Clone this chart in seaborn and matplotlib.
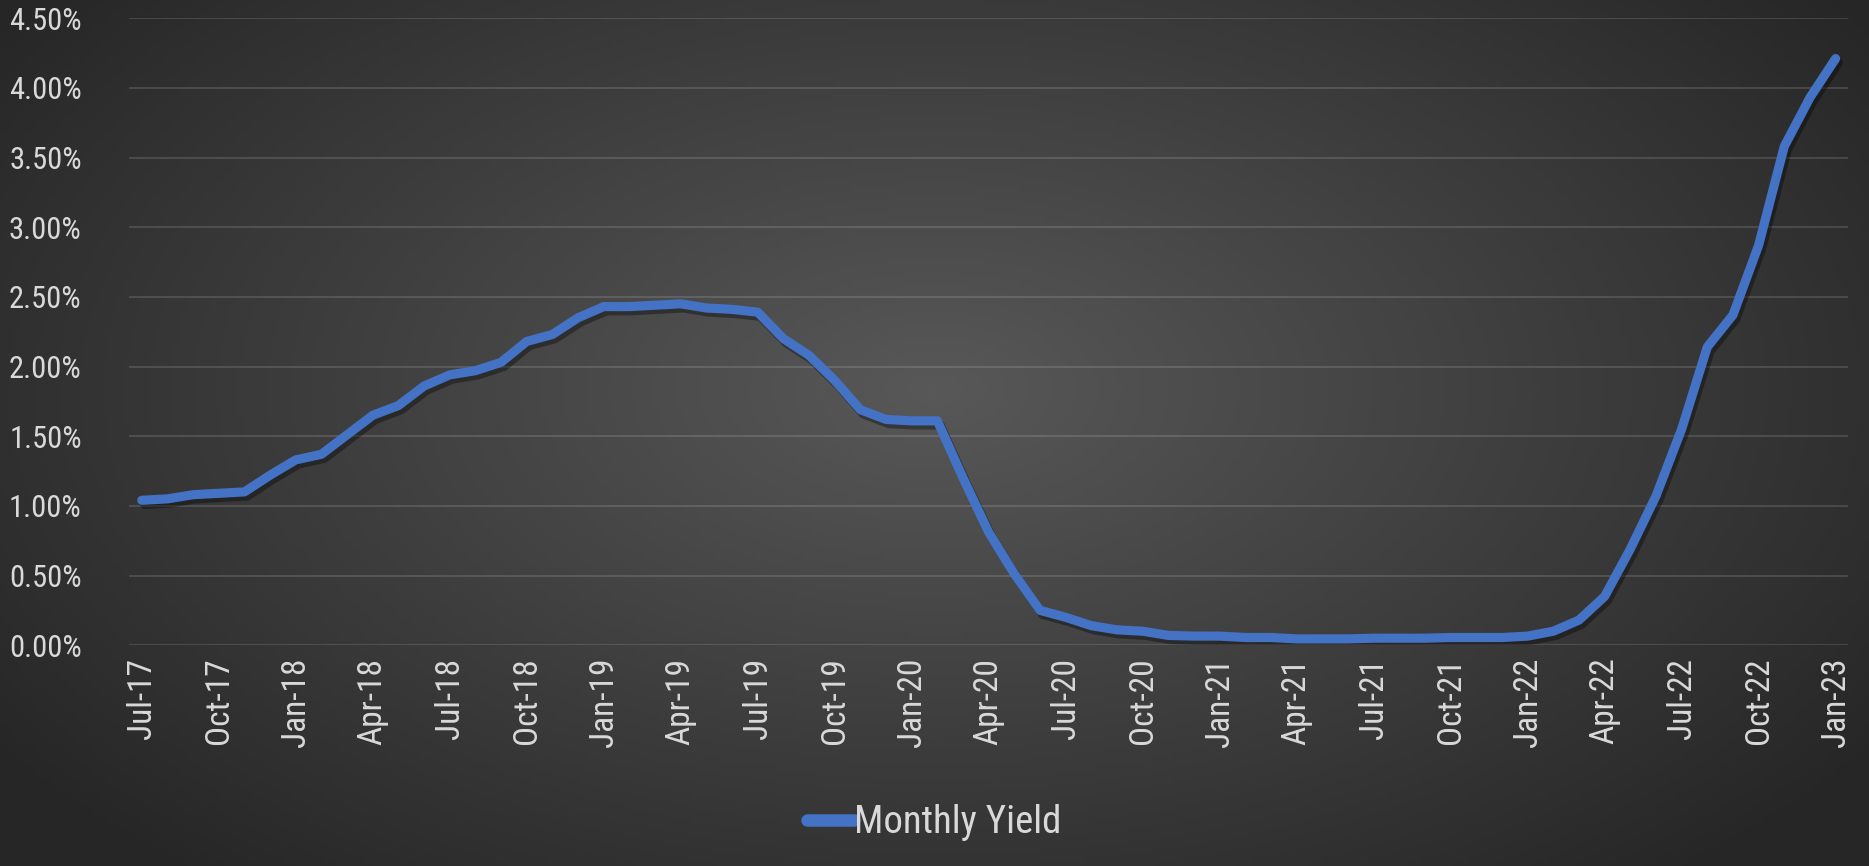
import numpy as np
import pandas as pd
import matplotlib
matplotlib.use('Agg')
import matplotlib.pyplot as plt
import matplotlib.patheffects as pe
from matplotlib.colors import LinearSegmentedColormap
from matplotlib.ticker import FuncFormatter
import seaborn as sns

# monthly yield (%), Jul-17 .. Jan-23
months = pd.date_range('2017-07-01', '2023-01-01', freq='MS')
yield_pct = [1.04, 1.05, 1.08, 1.09, 1.10, 1.22, 1.33, 1.37, 1.51, 1.65, 1.72, 1.86,
             1.94, 1.97, 2.03, 2.18, 2.23, 2.35, 2.43, 2.43, 2.44, 2.45, 2.42, 2.41,
             2.39, 2.20, 2.08, 1.90, 1.69, 1.62, 1.61, 1.61, 1.20, 0.81, 0.51, 0.25,
             0.20, 0.14, 0.11, 0.10, 0.07, 0.065, 0.065, 0.055, 0.055, 0.045, 0.045, 0.045,
             0.05, 0.05, 0.05, 0.055, 0.055, 0.055, 0.065, 0.10, 0.18, 0.35, 0.69, 1.07,
             1.55, 2.14, 2.37, 2.87, 3.58, 3.93, 4.21]
month_labels = [d.strftime('%b-%y') for d in months]

df = pd.DataFrame({'idx': np.arange(len(months)), 'Monthly Yield': yield_pct})

sns.set_style('dark')
plt.rcParams['font.family'] = ['Liberation Sans Narrow', 'DejaVu Sans Condensed', 'Roboto Condensed', 'Liberation Sans', 'DejaVu Sans']
plt.rcParams['font.stretch'] = 'condensed'
txt = '#d9d9d9'

fig = plt.figure(figsize=(18.69, 8.66), dpi=100)

# radial gradient background
bg = fig.add_axes([0, 0, 1, 1], zorder=-1)
gx, gy = np.meshgrid(np.linspace(0, 1, 400), np.linspace(0, 1, 200))
r = np.sqrt(((gx - 0.5) / 0.62) ** 2 + ((gy - 0.45) / 0.75) ** 2)
cmap = LinearSegmentedColormap.from_list('bg', ['#585858', '#262626'])
bg.imshow(np.clip(r, 0, 1), cmap=cmap, aspect='auto', extent=[0, 1, 0, 1], vmin=0, vmax=1)
bg.axis('off')

ax = fig.add_axes([0.069, 0.255, 0.92, 0.724])
ax.set_facecolor('none')
sns.lineplot(data=df, x='idx', y='Monthly Yield', ax=ax, color='#4472c4', linewidth=6.6,
             label='Monthly Yield', solid_joinstyle='round', solid_capstyle='round',
             path_effects=[pe.SimpleLineShadow(offset=(2, -3), shadow_color='black', alpha=0.35),
                           pe.Normal()])

ax.set_xlim(-0.5, len(months) - 0.5)
ax.set_ylim(0, 4.5)
ax.set_yticks(np.arange(0, 4.51, 0.5))
ax.yaxis.set_major_formatter(FuncFormatter(lambda v, p: f'{v:.2f}%'))
ax.set_xticks(df['idx'][::3])
ax.set_xticklabels(month_labels[::3], rotation=90)
ax.tick_params(axis='y', colors=txt, labelsize=22, length=0, pad=34)
ax.tick_params(axis='x', colors=txt, labelsize=24, length=0, pad=9)
ax.grid(axis='y', color='#ffffff', alpha=0.13, linewidth=1.5)
ax.grid(axis='x', visible=False)
ax.set_xlabel('')
ax.set_ylabel('')
for s in ax.spines.values():
    s.set_visible(False)

ax.get_legend().remove()
leg = fig.legend(loc='center', bbox_to_anchor=(0.5, 0.05), frameon=False,
                 fontsize=28, handlelength=1.2, handletextpad=0.0, labelcolor=txt)
for h in leg.get_lines():
    h.set_linewidth(9)
    h.set_path_effects([])

fig.savefig('out.png', dpi=100)
